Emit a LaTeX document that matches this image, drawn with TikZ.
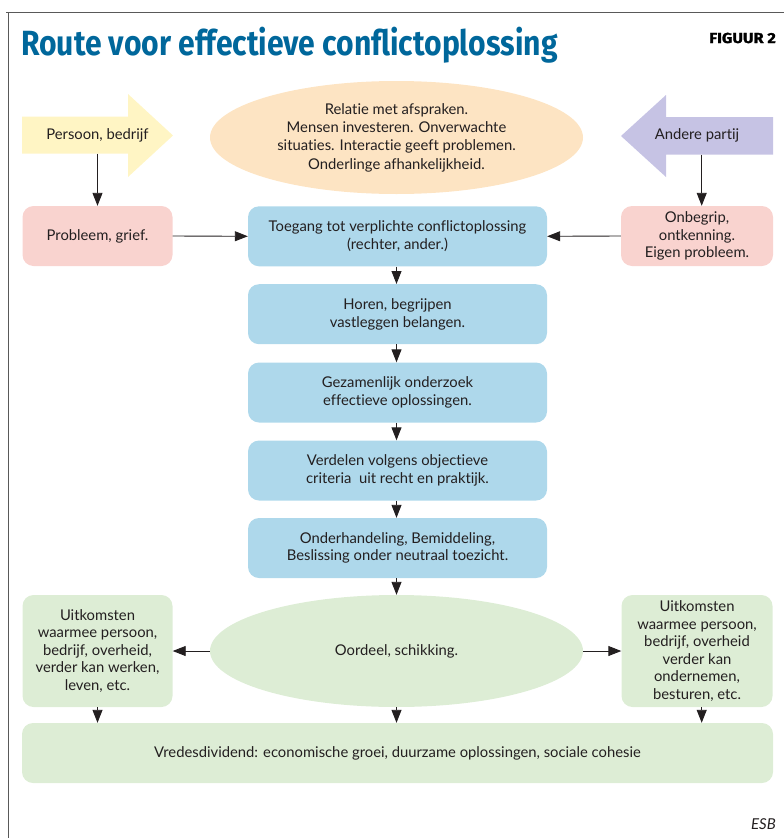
\documentclass[tikz,border=0pt]{standalone}
\usepackage{fontspec}
\setmainfont{Lato}[Ligatures=NoCommon]
\newfontfamily\titlefont[FakeStretch=0.86]{Fira Sans}
\newfontfamily\figfont[FakeStretch=1.12,FakeBold=1.6]{Fira Sans}
\usetikzlibrary{shapes.geometric,arrows.meta}
\definecolor{cyellow}{HTML}{FFF5C4}
\definecolor{cpeach}{HTML}{FDE4C3}
\definecolor{clav}{HTML}{C6C3E4}
\definecolor{cpink}{HTML}{F9D3CF}
\definecolor{cblue}{HTML}{AED8EB}
\definecolor{cgreen}{HTML}{DDEDD5}
\definecolor{ctitle}{HTML}{00679B}
\definecolor{ctext}{HTML}{231F20}
\tikzset{
  body/.style={font=\fontsize{14.8}{17.5}\selectfont, text=ctext, align=center, inner sep=0pt},
  rbox/.style={body, rounded corners=11pt, minimum height=60pt},
  bluebox/.style={rbox, fill=cblue, minimum width=299pt},
  pinkbox/.style={rbox, fill=cpink},
  greenbox/.style={rbox, fill=cgreen},
  oval/.style={body, ellipse, minimum width=373pt, minimum height=113pt},
  arr/.style={line width=0.9pt, draw=ctext, -{Triangle[length=13pt,width=10pt]}},
  frame/.style={line width=1pt, draw=black!65}
}
\begin{document}
\begin{tikzpicture}[x=1pt,y=-1pt]
\useasboundingbox (0,0) rectangle (784,838);
% frame
\draw[frame] (6,12) -- (784,12);
\draw[frame] (8,12) -- (8,838);
% title
\node[anchor=base west, inner sep=0pt, text=ctitle, font=\titlefont\bfseries\fontsize{35}{40}\selectfont] (title) at (21,55) {Route voor effectieve conflictoplossing};
\node[anchor=base east, inner sep=0pt, font=\figfont\bfseries\fontsize{14.5}{16}\selectfont] (fig) at (776,43) {FIGUUR 2};
% arrow shapes
\fill[cyellow] (22,116.5) -- (128,116.5) -- (128,94) -- (173,135.5) -- (128,177) -- (128,153.5) -- (22,153.5) -- cycle;
\fill[clav] (773,117) -- (666,117) -- (666,95) -- (621,136) -- (666,177) -- (666,154.5) -- (773,154.5) -- cycle;
\node[body, minimum height=37pt] (ya) at (97.5,135) {Persoon, bedrijf};
\node[body, minimum height=37pt] (pa) at (697,135.8) {Andere partij};
% top ellipse
\node[oval, fill=cpeach, font=\fontsize{14.8}{18.3}\selectfont] (top) at (396.5,137.5) {Relatie met afspraken.\\Mensen investeren. Onverwachte\\situaties. Interactie geeft problemen.\\Onderlinge afhankelijkheid.};
% row 2
\node[pinkbox, minimum width=150pt] (pl) at (97.5,236) {Probleem, grief.};
\node[pinkbox, minimum width=152pt] (pr) at (697,236) {Onbegrip,\\ontkenning.\\Eigen probleem.};
% blue chain
\node[bluebox] (b1) at (397.5,236.3) {Toegang tot verplichte conflictoplossing\\(rechter, ander.)};
\node[bluebox] (b2) at (397.5,314.2) {Horen, begrijpen\\vastleggen belangen.};
\node[bluebox] (b3) at (397.5,392.5) {Gezamenlijk onderzoek\\effectieve oplossingen.};
\node[bluebox] (b4) at (397.5,470.5) {Verdelen volgens objectieve\\criteria\ \ uit recht en praktijk.};
\node[bluebox] (b5) at (397.5,548) {Onderhandeling, Bemiddeling,\\Beslissing onder neutraal toezicht.};
% outcome row
\node[oval, fill=cgreen, minimum height=112pt] (oord) at (396.5,651) {Oordeel, schikking.};
\node[greenbox, minimum width=150pt, minimum height=112pt] (gl) at (97.5,651) {Uitkomsten\\waarmee persoon,\\bedrijf, overheid,\\verder kan werken,\\leven, etc.};
\node[greenbox, minimum width=151pt, minimum height=112pt] (gr) at (697,651) {Uitkomsten\\waarmee persoon,\\bedrijf, overheid\\verder kan\\ondernemen,\\besturen, etc.};
\node[greenbox, minimum width=751pt] (bar) at (397.5,753) {Vredesdividend: economische groei, duurzame oplossingen, sociale cohesie};
% ESB
\node[anchor=base east, inner sep=0pt, text=ctext, font=\itshape\fontsize{15}{17}\selectfont] (esb) at (776,829) {ESB};
% connectors
\draw[arr] (ya.south) -- (pl.north);
\draw[arr] ([xshift=4.7pt]pa.south) -- ([xshift=4.7pt]pr.north);
\draw[arr] (pl.east) -- (b1.west);
\draw[arr] (pr.west) -- (b1.east);
\draw[arr] ([xshift=-1pt]b1.south) -- ([xshift=-1pt]b2.north);
\draw[arr] ([xshift=-1pt]b2.south) -- ([xshift=-1pt]b3.north);
\draw[arr] ([xshift=-1pt]b3.south) -- ([xshift=-1pt]b4.north);
\draw[arr] ([xshift=-1pt]b4.south) -- ([xshift=-1pt]b5.north);
\draw[arr] ([xshift=-1pt]b5.south) -- (oord.north);
\draw[arr] (oord.west) -- (gl.east);
\draw[arr] (oord.east) -- (gr.west);
\draw[arr] (gl.south) -- (gl.south |- bar.north);
\draw[arr] (oord.south) -- (oord.south |- bar.north);
\draw[arr] ([xshift=4.7pt]gr.south) -- ([xshift=4.7pt]gr.south |- bar.north);
\end{tikzpicture}
\end{document}
